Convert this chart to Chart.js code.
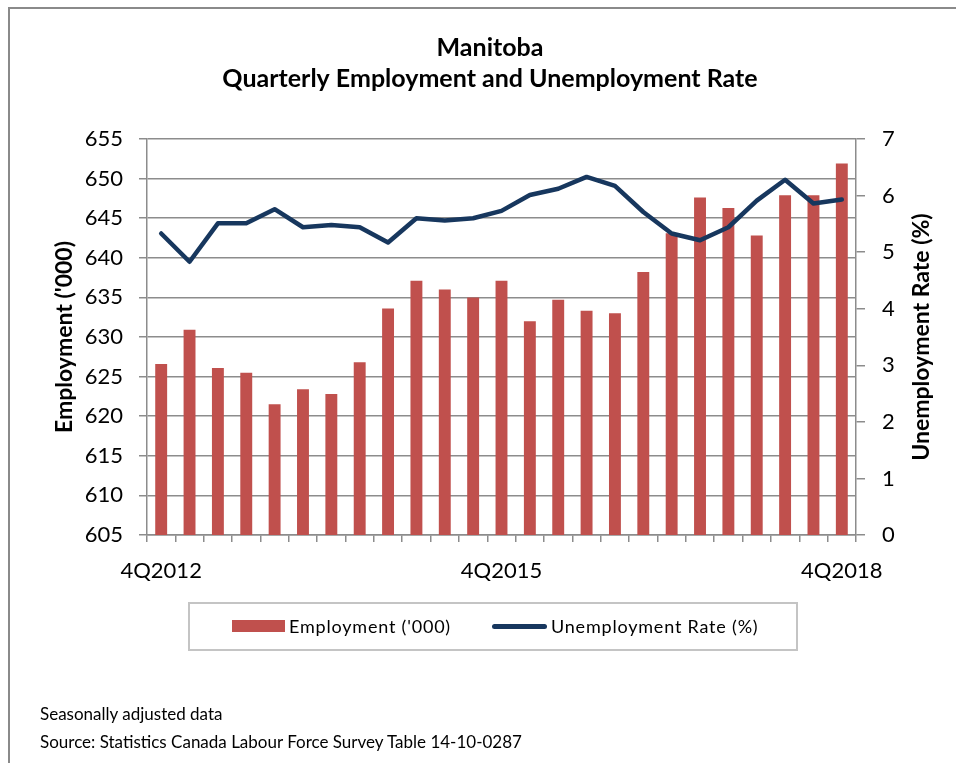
<!DOCTYPE html>
<html><head><meta charset="utf-8">
<script src="https://cdn.jsdelivr.net/npm/chart.js@4.4.1/dist/chart.umd.min.js"></script>
<style>
html,body{margin:0;padding:0;background:#fff;width:956px;height:763px;overflow:hidden;font-family:Lato,"Liberation Sans",sans-serif;}
#frame{position:absolute;left:8px;top:7px;width:1000px;height:820px;border:2px solid #8a8a8a;box-sizing:border-box;}
#c{position:absolute;left:0;top:0;}
#legend{position:absolute;left:188px;top:602px;width:610px;height:49px;border:2px solid #c4c4c4;box-sizing:border-box;}
.sw{position:absolute;}
.lt{position:absolute;font-size:18px;color:#000;letter-spacing:0.8px;line-height:20px;white-space:nowrap;}
#notes{position:absolute;left:40px;top:700px;font-size:17px;line-height:28px;color:#000;white-space:nowrap;}
</style></head>
<body>
<div id="frame"></div>
<canvas id="c" width="956" height="763"></canvas>
<div id="legend"></div>
<div id="notes"><div>Seasonally adjusted data</div><div>Source: Statistics Canada Labour Force Survey Table 14-10-0287</div></div>
<script>
const quarters = ["4Q2012","1Q2013","2Q2013","3Q2013","4Q2013","1Q2014","2Q2014","3Q2014","4Q2014","1Q2015","2Q2015","3Q2015","4Q2015","1Q2016","2Q2016","3Q2016","4Q2016","1Q2017","2Q2017","3Q2017","4Q2017","1Q2018","2Q2018","3Q2018","4Q2018"];
const employment = [626.6,630.9,626.1,625.5,621.5,623.4,622.8,626.8,633.6,637.1,636.0,635.0,637.1,632.0,634.7,633.3,633.0,638.2,643.1,647.6,646.3,642.8,647.9,647.9,651.9];
const unemploymentRate = [5.33,4.83,5.51,5.51,5.76,5.44,5.48,5.44,5.17,5.60,5.56,5.60,5.73,6.01,6.12,6.33,6.17,5.71,5.33,5.21,5.44,5.91,6.28,5.86,5.93];
const shownTickLabels = ["4Q2012","4Q2015","4Q2018"];
const seriesNames = ["Employment ('000)","Unemployment Rate (%)"];
const titleLines = ["Manitoba","Quarterly Employment and Unemployment Rate"];
const rightAxisTitle = "Unemployment Rate (%)";
const leftAxisTitle = "Employment ('000)";

const BAR = '#C0504D', LINE = '#17375E', GRID = '#8c8c8c';
const FONT = 'Lato';

const rightTitlePlugin = {
  id: 'rightTitle',
  afterDraw(chart) {
    const ctx = chart.ctx;
    const a = chart.chartArea;
    ctx.save();
    ctx.translate(922, (a.top + a.bottom) / 2);
    ctx.rotate(-Math.PI / 2);
    ctx.font = 'bold 23px ' + FONT;
    ctx.fillStyle = '#000';
    ctx.textAlign = 'center';
    ctx.textBaseline = 'middle';
    ctx.fillText(rightAxisTitle, 0, 0);
    ctx.restore();
  }
};

const chart = new Chart(document.getElementById('c'), {
  data: {
    labels: quarters,
    datasets: [
      {type:'bar', label: seriesNames[0], data: employment, backgroundColor: BAR, yAxisID: 'y', order: 1,
       categoryPercentage: 1, barPercentage: 0.42},
      {type:'line', label: seriesNames[1], data: unemploymentRate, borderColor: LINE, backgroundColor: LINE,
       borderWidth: 4.5, pointRadius: 0, tension: 0, yAxisID: 'y1', order: 0,
       borderCapStyle: 'round', borderJoinStyle: 'round'}
    ]
  },
  options: {
    responsive: false,
    animation: false,
    devicePixelRatio: 1,
    layout: {padding: {left: 40, right: 16, top: 32, bottom: 182}},
    plugins: {
      legend: {display: false},
      tooltip: {enabled: false},
      title: {display: true, text: titleLines, color: '#000',
        font: {family: FONT, size: 25, weight: 'bold', lineHeight: 1.24},
        padding: {top: 0, bottom: 45}}
    },
    scales: {
      x: {
        type: 'category',
        offset: true,
        grid: {offset: true, drawOnChartArea: false, drawTicks: true, tickLength: 7, color: GRID, lineWidth: 1.5},
        border: {display: true, color: GRID, width: 1.5},
        ticks: {autoSkip: false, maxRotation: 0, minRotation: 0, padding: 16, color: '#000',
          font: {family: FONT, size: 22},
          callback: function(v, i) { const l = this.getLabelForValue(v); return shownTickLabels.includes(l) ? l : ''; }},
        afterFit(s) { s.height = 46; }
      },
      y: {
        position: 'left', min: 605, max: 655,
        grid: {color: GRID, lineWidth: 1.5, tickLength: 8},
        border: {display: true, color: GRID, width: 1.5},
        ticks: {stepSize: 5, padding: 16, color: '#000', font: {family: FONT, size: 22}},
        title: {display: true, text: leftAxisTitle, color: '#000', font: {family: FONT, size: 23, weight: 'bold'}, padding: {top: 11, bottom: 0}},
        afterFit(s) { s.width = 107; }
      },
      y1: {
        position: 'right', min: 0, max: 7,
        grid: {drawOnChartArea: false, color: GRID, lineWidth: 1.5, tickLength: 9},
        border: {display: true, color: GRID, width: 1.5},
        ticks: {stepSize: 1, padding: 17, color: '#000', font: {family: FONT, size: 22}},
        afterFit(s) { s.width = 84; }
      }
    }
  },
  plugins: [rightTitlePlugin]
});

// HTML legend built from the datasets
const lg = document.getElementById('legend');
const items = chart.data.datasets.map(d => ({label: d.label, type: d.type, color: d.type === 'bar' ? d.backgroundColor : d.borderColor}));
const pos = [{sx: 42, sw: 53, tx: 99}, {sx: 302, sw: 55, tx: 361}];
items.forEach((it, i) => {
  const sw = document.createElement('div');
  sw.className = 'sw';
  sw.style.left = pos[i].sx + 'px';
  sw.style.width = pos[i].sw + 'px';
  sw.style.background = it.color;
  if (it.type === 'bar') { sw.style.top = '16px'; sw.style.height = '12px'; }
  else { sw.style.top = '20px'; sw.style.height = '5px'; sw.style.borderRadius = '3px'; }
  lg.appendChild(sw);
  const t = document.createElement('div');
  t.className = 'lt';
  t.style.left = pos[i].tx + 'px';
  t.style.top = '12px';
  t.textContent = it.label;
  lg.appendChild(t);
});
</script>
</body></html>
